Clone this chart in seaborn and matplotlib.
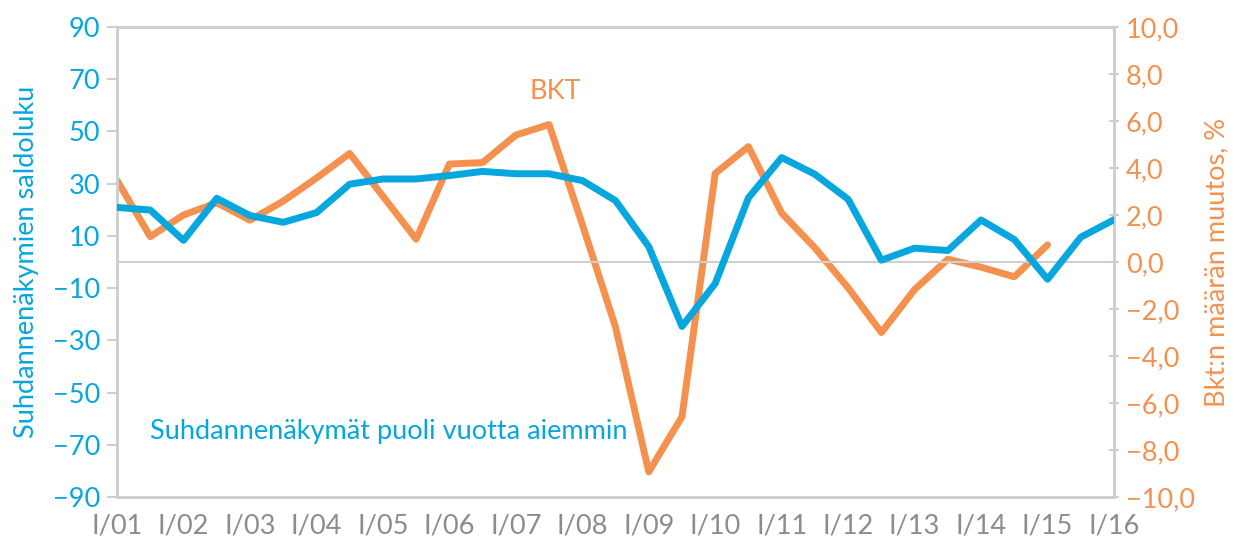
import numpy as np
import pandas as pd
import matplotlib
matplotlib.use("Agg")
import matplotlib.pyplot as plt
import seaborn as sns

# Puolivuosittaiset havainnot I/01 ... I/16
vuodet = [f"I/{v:02d}" for v in range(1, 17)]
suhdanne = [20.9, 19.9, 8.3, 24.4, 17.8, 15.2, 18.9, 29.8, 31.8, 31.8,
            33.1, 34.7, 33.8, 33.8, 31.2, 23.5, 5.9, -24.7, -8.2, 24.6,
            40.0, 33.6, 24.0, 0.7, 5.3, 4.4, 16.1, 8.6, -6.6, 9.5, 16.2]
bkt = [3.47, 1.08, 2.0, 2.52, 1.78, 2.59, 3.57, 4.62, 2.8, 0.97,
       4.17, 4.23, 5.4, 5.85, 1.6, -2.77, -8.93, -6.58, 3.77, 4.91,
       2.08, 0.6, -1.1, -3.0, -1.17, 0.12, -0.22, -0.63, 0.73]

SININEN = "#06A6DE"
ORANSSI = "#F5914F"
HARMAA = "#CFCFD1"

df_s = pd.DataFrame({"t": 2001 + 0.5 * np.arange(len(suhdanne)), "arvo": suhdanne})
df_b = pd.DataFrame({"t": 2001 + 0.5 * np.arange(len(bkt)), "arvo": bkt})

sns.set_style("white")
plt.rcParams["font.family"] = ["Lato", "DejaVu Sans"]

fig, ax = plt.subplots(figsize=(12.36, 5.4), dpi=100)
fig.subplots_adjust(left=0.0947, right=0.9013, top=0.95, bottom=0.0796)
ax2 = ax.twinx()

ax.axhline(0, color=HARMAA, lw=1.5, zorder=1)
sns.lineplot(data=df_s, x="t", y="arvo", ax=ax, color=SININEN, lw=5, zorder=3)
sns.lineplot(data=df_b, x="t", y="arvo", ax=ax2, color=ORANSSI, lw=5, zorder=3)

ax.set_zorder(ax2.get_zorder() + 1)
ax.patch.set_visible(False)

ax.set_xlim(2001, 2016)
ax.set_ylim(-90, 90)
ax2.set_ylim(-10, 10)
ax.set_xticks(range(2001, 2017))
ax.set_xticklabels(vuodet)
ax.set_yticks(range(-90, 91, 20))
ax.set_yticklabels([str(v).replace("-", "\u2212") for v in range(-90, 91, 20)])
ax2.set_yticks(range(-10, 11, 2))
ax2.set_yticklabels([f"{v:.1f}".replace(".", ",").replace("-", "\u2212") for v in range(-10, 11, 2)])

fs = 19.5
ax.set_xlabel("")
ax.set_ylabel("Suhdannenäkymien saldoluku", color=SININEN, fontsize=fs, labelpad=10)
ax2.set_ylabel("Bkt:n määrän muutos, %", color=ORANSSI, fontsize=fs, labelpad=7)

for a in (ax, ax2):
    for s in a.spines.values():
        s.set_color(HARMAA)
        s.set_linewidth(2)

ax.tick_params(axis="y", colors=HARMAA, labelcolor=SININEN, labelsize=fs, length=7, width=1.5, direction="out", pad=5)
ax.tick_params(axis="x", colors=HARMAA, labelcolor="#8C8C8C", labelsize=fs, length=5, width=1.5, direction="out", pad=7)
ax2.tick_params(axis="y", colors=HARMAA, labelcolor=ORANSSI, labelsize=fs, length=7, width=1.5, direction="inout", pad=5)

ax2.text(2007.6, 7.25, "BKT", color=ORANSSI, fontsize=fs, ha="center", va="center")
ax.text(2001.5, -65, "Suhdannenäkymät puoli vuotta aiemmin", color=SININEN, fontsize=fs, ha="left", va="center")

fig.savefig("out.png", dpi=100)
